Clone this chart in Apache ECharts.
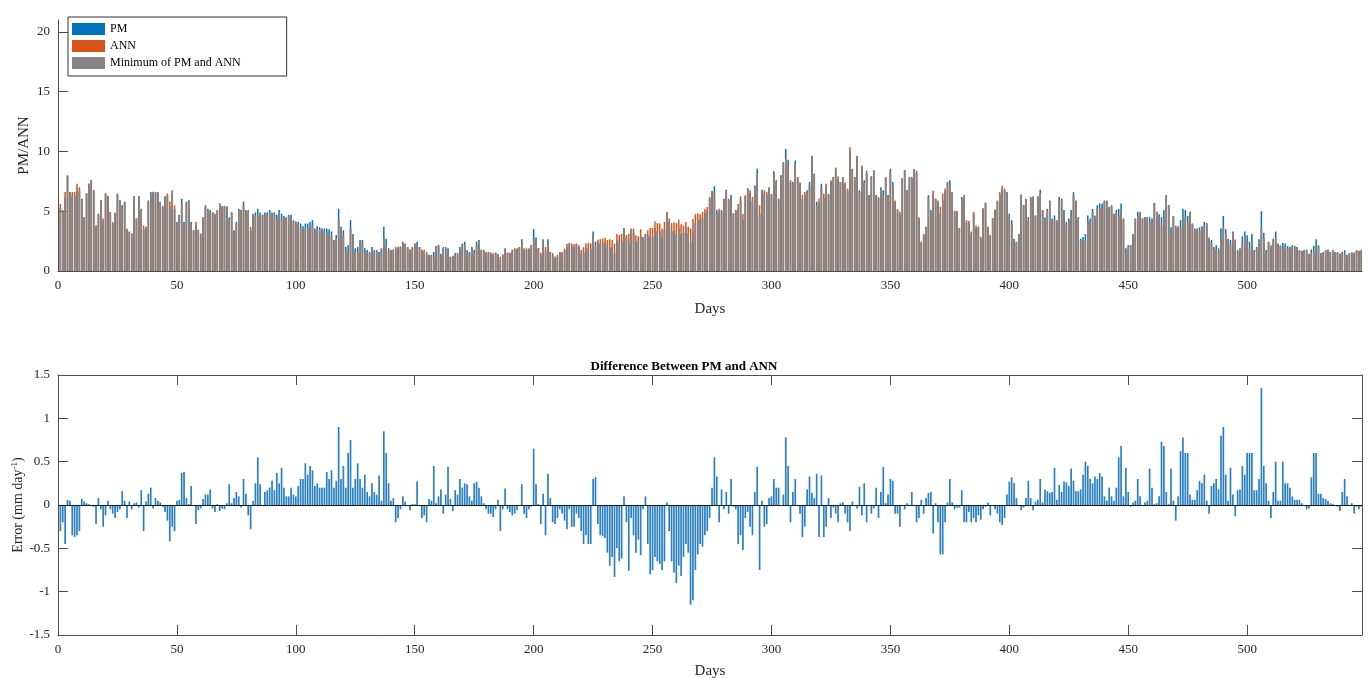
<!DOCTYPE html>
<html>
<head>
<meta charset="utf-8">
<script src="https://cdn.jsdelivr.net/npm/echarts@6/dist/echarts.min.js"></script>
<style>
  html, body { margin: 0; padding: 0; background: #fff; }
  #chart { width: 1368px; height: 678px; }
</style>
</head>
<body>
<div id="chart"></div>
<script>
// PM per day (day 1..548)
const pm = [
  5.3, 4.9, 6.15, 8.0, 6.6, 6.25, 6.25, 6.95, 6.7, 6.05,
  4.5, 6.5, 7.3, 7.6, 6.75, 3.6, 4.8, 5.9, 4.15, 6.4,
  6.3, 4.9, 4.0, 4.75, 6.4, 5.9, 5.5, 5.8, 3.4, 3.3,
  3.1, 6.25, 4.4, 6.25, 5.2, 3.5, 3.7, 5.9, 6.6, 6.6,
  6.6, 6.6, 5.8, 5.4, 6.2, 6.3, 5.4, 6.5, 5.2, 4.1,
  4.7, 6.05, 4.1, 5.8, 5.9, 4.1, 3.4, 3.9, 3.4, 3.1,
  4.5, 5.5, 5.2, 5.1, 4.9, 4.7, 5.1, 5.6, 5.4, 5.4,
  5.4, 4.5, 4.9, 3.4, 4.1, 5.2, 5.1, 5.8, 5.1, 5.0,
  3.4, 4.8, 4.9, 5.2, 4.9, 4.7, 4.9, 4.9, 5.1, 4.9,
  4.9, 4.7, 5.1, 4.8, 4.6, 4.5, 4.7, 4.7, 4.25, 4.15,
  4.1, 3.97, 3.75, 3.97, 3.97, 4.1, 4.25, 3.55, 3.75, 3.65,
  3.55, 3.55, 3.55, 3.5, 3.3, 2.6, 3.0, 5.2, 3.7, 3.4,
  2.0, 2.15, 4.25, 3.1, 1.9, 2.0, 2.6, 2.6, 1.9, 1.75,
  1.6, 2.0, 1.75, 1.75, 1.6, 1.9, 3.7, 2.7, 1.9, 1.75,
  1.8, 1.8, 1.9, 2.0, 2.45, 2.3, 2.0, 1.75, 2.0, 2.3,
  2.45, 2.0, 1.65, 1.65, 1.4, 1.35, 1.35, 1.6, 2.1, 2.2,
  1.45, 1.9, 2.0, 1.9, 1.2, 1.2, 1.5, 1.5, 2.0, 2.3,
  2.45, 1.75, 1.6, 2.0, 1.75, 2.45, 2.6, 1.8, 1.75, 1.55,
  1.5, 1.45, 1.35, 1.5, 1.4, 0.9, 1.35, 1.9, 1.5, 1.45,
  1.65, 1.8, 1.85, 2.0, 2.65, 1.8, 1.75, 1.85, 2.15, 3.5,
  2.8, 1.9, 1.3, 2.65, 1.65, 2.65, 1.6, 1.3, 1.0, 1.2,
  1.55, 1.5, 1.7, 2.0, 2.3, 2.05, 2.0, 2.2, 2.0, 1.45,
  1.55, 1.95, 1.9, 1.85, 3.3, 2.45, 2.4, 2.3, 2.35, 2.4,
  2.05, 1.95, 2.0, 1.45, 2.6, 2.35, 2.5, 3.6, 2.8, 2.35,
  3.4, 3.2, 2.45, 2.5, 2.9, 2.8, 3.1, 2.95, 2.8, 2.85,
  3.55, 3.35, 3.3, 2.8, 3.45, 4.95, 4.1, 3.35, 3.3, 3.1,
  3.6, 3.1, 3.2, 3.65, 3.15, 2.4, 3.25, 4.0, 4.25, 4.3,
  4.45, 4.85, 5.05, 6.05, 6.7, 7.1, 5.1, 5.0, 5.1, 6.0,
  6.8, 5.95, 6.35, 4.8, 5.05, 5.15, 5.9, 4.25, 6.2, 6.85,
  6.5, 5.85, 7.15, 8.55, 4.75, 6.8, 6.5, 6.4, 7.0, 6.45,
  8.35, 7.6, 6.05, 8.0, 9.1, 10.2, 9.3, 7.4, 7.45, 9.25,
  7.85, 7.3, 6.0, 6.35, 6.75, 7.45, 9.65, 8.15, 5.8, 5.7,
  7.3, 6.1, 7.05, 6.45, 7.45, 7.85, 8.55, 7.7, 7.45, 7.85,
  7.3, 6.7, 10.05, 8.55, 7.85, 9.6, 6.75, 8.7, 7.6, 8.2,
  6.35, 7.85, 8.4, 6.35, 6.05, 7.0, 6.75, 7.85, 6.35, 8.55,
  7.45, 5.8, 5.1, 4.7, 7.75, 8.4, 6.75, 7.85, 7.85, 8.5,
  8.2, 4.35, 2.45, 3.0, 3.7, 6.35, 5.1, 6.4, 6.05, 5.7,
  4.8, 5.9, 6.7, 7.45, 7.6, 6.6, 5.0, 5.0, 3.55, 6.2,
  6.15, 4.05, 4.1, 3.1, 4.8, 3.6, 3.6, 2.7, 5.2, 5.7,
  3.7, 2.9, 4.4, 5.1, 5.8, 6.4, 6.9, 6.75, 6.6, 4.8,
  4.25, 2.7, 2.45, 3.1, 6.35, 5.5, 6.05, 4.5, 6.2, 6.2,
  4.65, 6.25, 6.8, 5.1, 4.5, 5.2, 5.9, 4.4, 4.65, 4.25,
  6.2, 6.05, 5.1, 4.1, 4.4, 5.1, 6.6, 5.9, 4.5, 2.7,
  2.85, 3.1, 4.65, 4.4, 5.2, 4.65, 5.5, 5.65, 5.65, 5.9,
  5.9, 5.35, 5.5, 4.8, 5.1, 5.2, 5.65, 4.4, 1.9, 2.15,
  2.15, 3.1, 4.4, 4.95, 4.95, 4.4, 4.5, 4.5, 4.5, 4.4,
  5.7, 4.95, 4.75, 4.5, 5.1, 6.35, 5.5, 3.65, 4.6, 3.6,
  3.75, 4.25, 5.2, 5.1, 4.6, 4.95, 3.97, 3.55, 3.55, 3.65,
  3.75, 4.1, 4.0, 2.7, 2.6, 2.0, 2.15, 1.9, 3.55, 4.6,
  3.5, 2.7, 2.6, 3.3, 2.5, 1.75, 1.9, 2.9, 3.3, 3.0,
  2.45, 3.1, 1.75, 2.0, 2.65, 5.0, 3.2, 1.75, 2.45, 2.0,
  2.7, 3.3, 2.3, 2.15, 2.35, 2.3, 2.1, 2.0, 2.15, 2.1,
  2.0, 1.75, 1.7, 1.75, 1.75, 1.4, 1.8, 2.1, 2.65, 2.15,
  1.5, 1.6, 1.75, 1.8, 1.6, 1.75, 1.6, 1.55, 1.4, 1.6,
  1.75, 1.35, 1.5, 1.55, 1.45, 1.7, 1.65, 1.75
];

// PM minus ANN per day
const err = [
  -0.3, -0.2, -0.45, 0.06, 0.05, -0.35, -0.37, -0.35, -0.3, 0.07,
  0.04, 0.02, 0.01, 0, -0.02, -0.22, 0.08, -0.05, -0.25, -0.12,
  0.05, -0.05, -0.1, -0.15, -0.08, -0.05, 0.16, 0.05, -0.15, 0.04,
  -0.05, 0.02, 0.03, -0.03, 0.17, -0.3, 0.04, 0.13, 0.2, -0.04,
  0.08, 0.05, 0.03, -0.02, -0.08, -0.18, -0.42, -0.25, -0.3, 0.05,
  0.06, 0.37, 0.38, 0.08, 0.01, 0.22, 0.0, -0.22, -0.06, -0.04,
  0.07, 0.12, 0.12, 0.18, -0.04, -0.08, 0.01, -0.07, -0.04, -0.05,
  0.02, 0.24, 0.02, 0.08, 0.15, 0.1, -0.03, 0.3, 0.13, -0.12,
  -0.28, 0.05, 0.25, 0.55, 0.24, 0.0, 0.15, 0.17, 0.2, 0.28,
  0.17, 0.37, 0.25, 0.43, 0.2, 0.1, 0.1, 0.2, 0.12, 0.1,
  0.22, 0.3, 0.3, 0.48, 0.35, 0.45, 0.4, 0.22, 0.25, 0.2,
  0.2, 0.2, 0.38, 0.3, 0.4, 0.2, 0.28, 0.9, 0.3, 0.45,
  0.2, 0.6, 0.75, 0.2, 0.3, 0.48, 0.3, 0.2, 0.35, 0.15,
  0.1, 0.25, 0.15, 0.12, 0.34, 0.05, 0.85, 0.6, 0.25, 0.05,
  0.08, -0.2, -0.15, -0.05, 0.1, 0.04, 0.0, -0.06, 0.01, 0.01,
  0.27, 0.0, -0.15, -0.12, -0.2, 0.07, 0.05, 0.45, 0.02, 0.1,
  0.18, -0.1, 0.12, 0.44, 0.07, -0.07, 0.17, 0.12, 0.3, 0.2,
  0.25, 0.24, 0.1, 0.05, 0.25, 0.27, 0.2, 0.1, 0.02, -0.05,
  -0.1, -0.1, -0.14, -0.05, 0.06, -0.3, -0.05, 0.19, -0.05, -0.08,
  -0.12, -0.1, -0.06, 0.0, 0.24, -0.1, -0.15, -0.05, -0.02, 0.65,
  0.24, 0.01, -0.22, 0.13, -0.35, 0.36, 0.08, -0.2, -0.22, -0.15,
  -0.05, -0.1, -0.18, -0.28, -0.05, -0.25, -0.25, -0.1, -0.15, -0.3,
  -0.45, -0.35, -0.45, -0.45, 0.3, 0.32, -0.22, -0.35, -0.36, -0.38,
  -0.55, -0.7, -0.6, -0.83, -0.5, -0.65, -0.62, 0.1, -0.2, -0.76,
  -0.15, -0.35, -0.55, -0.4, -0.58, -0.05, 0.1, -0.45, -0.8, -0.75,
  -0.6, -0.65, -0.68, -0.75, -0.65, 0.03, -0.3, -0.65, -0.78, -0.9,
  -0.7, -0.82, -0.6, -0.45, -0.55, -1.15, -1.1, -0.75, -0.57, -0.45,
  -0.48, -0.35, -0.3, -0.15, 0.2, 0.55, 0.33, -0.2, 0.18, -0.05,
  0.15, -0.1, 0.3, -0.02, -0.05, -0.45, -0.35, -0.52, -0.15, -0.08,
  -0.25, -0.35, 0.15, 0.44, -0.75, 0.05, -0.25, -0.22, 0.08, 0.1,
  0.3, 0.2, 0.2, 0.0, 0.12, 0.78, 0.45, -0.2, 0.15, 0.3,
  0.0, -0.1, -0.37, -0.25, 0.18, 0.33, 0.14, 0.08, 0.36, -0.37,
  0.34, -0.37, -0.25, 0.08, -0.15, -0.03, -0.1, -0.2, 0.02, 0.03,
  -0.1, -0.2, -0.3, 0.04, 0.0, -0.04, 0.21, -0.12, 0.25, -0.2,
  0.0, -0.1, -0.04, 0.2, -0.15, 0.15, 0.44, 0.02, 0.12, 0.3,
  0.28, -0.1, -0.1, -0.25, 0.0, -0.05, 0.02, 0.0, 0.15, -0.01,
  -0.2, -0.15, 0.06, -0.1, 0.08, 0.14, 0.15, -0.33, 0.02, -0.2,
  -0.57, -0.57, -0.2, 0.03, 0.3, 0.03, -0.05, -0.03, -0.03, 0.17,
  -0.2, -0.2, -0.08, -0.2, -0.15, -0.2, -0.12, -0.17, -0.05, -0.02,
  0.03, -0.12, 0.0, -0.05, -0.1, -0.2, -0.23, -0.15, 0.12, 0.27,
  0.32, 0.25, 0.08, 0.0, -0.06, -0.03, 0.08, 0.28, 0.08, -0.06,
  0.04, 0.06, 0.3, 0.03, 0.18, 0.16, 0.14, 0.15, 0.43, 0.06,
  0.23, 0.15, 0.27, 0.26, 0.22, 0.42, 0.28, 0.16, 0.16, 0.18,
  0.35, 0.5, 0.45, 0.3, 0.25, 0.33, 0.3, 0.37, 0.33, 0.1,
  0.05, 0.2, 0.1, 0.05, 0.2, 0.55, 0.68, 0.1, 0.43, 0.15,
  -0.02, 0.03, 0.05, 0.3, 0.1, 0.0, 0.03, 0.05, 0.42, 0.2,
  0.01, 0.02, 0.1, 0.73, 0.68, 0.15, 0.01, 0.42, 0.05, -0.18,
  0.1, 0.62, 0.78, 0.6, 0.6, 0.12, 0.06, 0.06, 0.17, 0.28,
  0.25, 0.35, 0.05, -0.1, 0.22, 0.25, 0.3, 0.18, 0.8, 0.9,
  0.35, 0.05, 0.43, 0.12, -0.13, 0.17, 0.18, 0.45, 0.35, 0.6,
  0.6, 0.6, 0.17, 0.17, 0.3, 1.35, 0.45, 0.25, 0.05, -0.15,
  0.15, 0.5, 0.05, 0.05, 0.5, 0.25, 0.25, 0.2, 0.1, 0.06,
  0.06, 0.06, 0.02, 0.0, -0.05, -0.04, 0.32, 0.6, 0.6, 0.13,
  0.13, 0.08, 0.07, 0.05, 0.02, 0.01, 0.0, -0.02, -0.07, 0.15,
  0.3, 0.1, 0.0, 0.02, -0.1, -0.02, -0.05, -0.02
];

const seriesNames = ['PM', 'ANN', 'Minimum of PM and ANN'];
const dayMax = 548.3;

// ANN from PM and the difference, min of both for the grey bars
const ann = pm.map((v, i) => +(v - err[i]).toFixed(3));
const low = pm.map((v, i) => Math.min(v, ann[i]));
const pair = arr => arr.map((v, i) => [i + 1, v]);

const font = 'Liberation Serif';
const axisCol = '#4d4d4d';
const labelStyle = { color: '#262626', fontFamily: font, fontSize: 13 };

let myChart = echarts.init(document.getElementById('chart'));

function xAx(gridIndex, extra) {
  return Object.assign({
    type: 'value', gridIndex: gridIndex, min: 0, max: dayMax, interval: 50,
    axisLine: { onZero: false, lineStyle: { color: axisCol } },
    axisTick: { inside: true, length: 10, lineStyle: { color: axisCol } },
    axisLabel: Object.assign({ margin: 8, showMaxLabel: false }, labelStyle),
    splitLine: { show: false }
  }, extra);
}

myChart.setOption({
  animation: false,
  textStyle: { fontFamily: font },
  title: {
    text: 'Difference Between PM and ANN',
    left: 'center', top: 360, padding: 0,
    textStyle: { fontFamily: font, fontSize: 13, fontWeight: 'bold', color: '#000' }
  },
  legend: {
    data: seriesNames,
    orient: 'vertical', left: 68, top: 17,
    padding: [6, 46, 7, 4], itemGap: 5, itemWidth: 33, itemHeight: 12,
    icon: 'rect',
    borderColor: '#333', borderWidth: 1, backgroundColor: '#fff',
    textStyle: { fontFamily: font, fontSize: 12, color: '#000' }
  },
  grid: [
    { left: 58, top: 20, width: 1304, height: 251, outerBoundsMode: 'none' },
    { left: 58, top: 375, width: 1304, height: 260, outerBoundsMode: 'none' }
  ],
  xAxis: [
    xAx(0, { name: 'Days', nameLocation: 'middle', nameGap: 31, nameMoveOverlap: false,
      nameTextStyle: { fontFamily: font, fontSize: 15, color: '#262626' } }),
    xAx(1, { name: 'Days', nameLocation: 'middle', nameGap: 29, nameMoveOverlap: false,
      nameTextStyle: { fontFamily: font, fontSize: 15, color: '#262626' } }),
    xAx(1, { position: 'top', axisLabel: { show: false } })
  ],
  yAxis: [
    {
      type: 'value', gridIndex: 0, min: 0, max: 21, interval: 5,
      name: 'PM/ANN', nameLocation: 'middle', nameGap: 26, nameMoveOverlap: false,
      nameTextStyle: { fontFamily: font, fontSize: 15, color: '#262626' },
      axisLine: { show: true, onZero: false, lineStyle: { color: axisCol } },
      axisTick: { show: true, inside: true, length: 10, lineStyle: { color: axisCol } },
      axisLabel: Object.assign({ margin: 8, showMaxLabel: false }, labelStyle),
      splitLine: { show: false }
    },
    {
      type: 'value', gridIndex: 1, min: -1.5, max: 1.5, interval: 0.5,
      name: 'Error (mm day{sup|-1})', nameLocation: 'middle', nameGap: 31, nameMoveOverlap: false,
      nameTextStyle: {
        fontFamily: font, fontSize: 14, color: '#262626',
        rich: { sup: { fontFamily: font, fontSize: 9, color: '#262626', verticalAlign: 'top', padding: [0, 0, 8, 0] } }
      },
      axisLine: { show: true, onZero: false, lineStyle: { color: axisCol } },
      axisTick: { show: true, inside: true, length: 10, lineStyle: { color: axisCol } },
      axisLabel: Object.assign({ margin: 8 }, labelStyle),
      splitLine: { show: false }
    },
    {
      type: 'value', gridIndex: 1, min: -1.5, max: 1.5, interval: 0.5, position: 'right',
      axisLine: { show: true, onZero: false, lineStyle: { color: axisCol } },
      axisTick: { show: true, inside: true, length: 10, lineStyle: { color: axisCol } },
      axisLabel: { show: false },
      splitLine: { show: false }
    }
  ],
  series: [
    {
      name: 'PM', type: 'bar', xAxisIndex: 0, yAxisIndex: 0,
      data: pair(pm), barWidth: 1.5, barGap: '-100%',
      itemStyle: { color: '#0072BD' }
    },
    {
      name: 'ANN', type: 'bar', xAxisIndex: 0, yAxisIndex: 0,
      data: pair(ann), barWidth: 1.5, barGap: '-100%',
      itemStyle: { color: '#D95319' }
    },
    {
      name: 'Minimum of PM and ANN', type: 'bar', xAxisIndex: 0, yAxisIndex: 0,
      data: pair(low), barWidth: 1.5, barGap: '-100%',
      itemStyle: { color: '#858585' }
    },
    {
      name: 'Error', type: 'bar', xAxisIndex: 1, yAxisIndex: 1,
      data: pair(err), barWidth: 1.7,
      itemStyle: { color: '#2a80c4' },
      markLine: {
        silent: true, symbol: 'none', label: { show: false },
        lineStyle: { color: '#1a1a1a', width: 1, type: 'solid' },
        data: [{ yAxis: 0 }]
      }
    }
  ]
});

window.addEventListener('resize', () => {
  myChart.resize();
});
</script>
</body>
</html>
